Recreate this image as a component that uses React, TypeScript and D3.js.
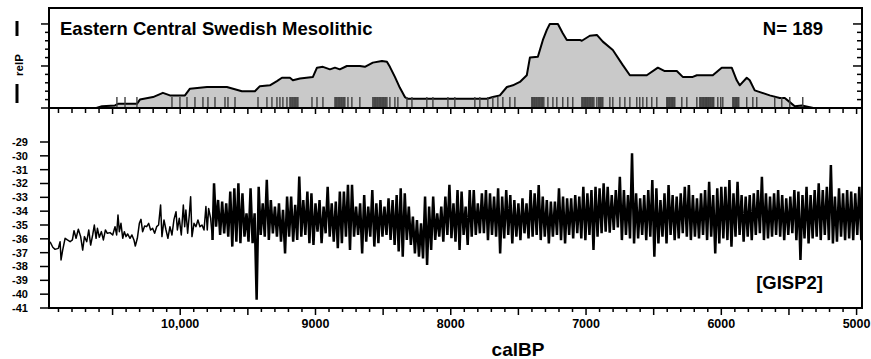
import React from "react";
import * as d3 from "d3";

// ---------- DATA ----------
// Summed probability distribution (relP) of dates, calBP
const spdYears = [10620, 10578, 10482, 10460, 10320, 10298, 10201, 10128, 10076, 9965, 9928, 9802, 9655, 9544, 9448, 9411, 9337, 9285, 9248, 9189, 9167, 9115, 9019, 8989, 8945, 8893, 8856, 8820, 8768, 8672, 8635, 8576, 8509, 8472, 8450, 8413, 8376, 8339, 8317, 8280, 7733, 7689, 7637, 7585, 7541, 7489, 7438, 7415, 7356, 7319, 7290, 7268, 7208, 7172, 7142, 7046, 7031, 6972, 6920, 6876, 6802, 6728, 6676, 6551, 6469, 6418, 6329, 6285, 6211, 6181, 6063, 5997, 5923, 5886, 5864, 5812, 5790, 5753, 5642, 5568, 5531, 5494, 5457, 5405, 5346, 5320];
const spdValues = [0, 0.02, 0.03, 0.05, 0.05, 0.10, 0.13, 0.18, 0.15, 0.15, 0.23, 0.25, 0.25, 0.20, 0.20, 0.26, 0.27, 0.32, 0.36, 0.36, 0.33, 0.35, 0.37, 0.48, 0.49, 0.46, 0.48, 0.46, 0.50, 0.50, 0.49, 0.54, 0.56, 0.55, 0.49, 0.37, 0.24, 0.13, 0.11, 0.11, 0.11, 0.13, 0.15, 0.25, 0.27, 0.31, 0.39, 0.60, 0.61, 0.81, 0.93, 1.00, 1.00, 0.89, 0.81, 0.81, 0.80, 0.86, 0.87, 0.79, 0.69, 0.51, 0.39, 0.39, 0.48, 0.44, 0.44, 0.37, 0.37, 0.39, 0.39, 0.48, 0.48, 0.33, 0.27, 0.36, 0.33, 0.21, 0.15, 0.12, 0.12, 0.07, 0.02, 0.03, 0.01, 0];

// Individual radiocarbon dates (calBP medians), N = 189
const dateYears = [
  10468, 10408, 10320,
  10061, 10002, 9950, 9891, 9832, 9795, 9743, 9669, 9647, 9595,
  9425, 9359, 9322, 9285, 9263, 9241, 9211,
  9189, 9182, 9174, 9167, 9159, 9152, 9145, 9137, 9130,
  9026, 8989, 8945,
  8856, 8849, 8842, 8834, 8827, 8820, 8812, 8805, 8797, 8790, 8783,
  8760, 8731, 8672,
  8576, 8568, 8561, 8554, 8546, 8539, 8531, 8524, 8517, 8509, 8502, 8495, 8487, 8480, 8472,
  8450, 8413, 8391, 8324, 8287, 8177, 8132, 8021, 7970,
  7822, 7785, 7726, 7689, 7652, 7615, 7563, 7526,
  7401, 7394, 7386, 7379, 7371, 7364, 7356, 7349, 7342, 7334, 7327, 7320, 7312,
  7282, 7245, 7216, 7172, 7135, 7098,
  7031, 7024, 7016, 7009, 7002, 6994, 6987, 6979, 6972, 6965, 6957, 6950, 6942,
  6920, 6906, 6898, 6891, 6883, 6876,
  6824, 6802, 6750, 6713, 6676, 6625, 6603, 6580, 6551, 6514, 6477,
  6403, 6396, 6388, 6381, 6373, 6366, 6359, 6351, 6344,
  6292, 6255, 6181,
  6159, 6152, 6144, 6137, 6130, 6122, 6115, 6108, 6100, 6093, 6085, 6078, 6070, 6063, 6056,
  6026, 6004, 5989,
  5915, 5908, 5900, 5893, 5886, 5878, 5871,
  5812, 5767, 5738, 5605, 5553, 5494, 5398,
];

// GISP2 d18O, low-resolution early part (calBP, permil)
const gispEarlyYears = [10962, 10942, 10925, 10901, 10888, 10881, 10869, 10851, 10834, 10814, 10797, 10785, 10770, 10753, 10736, 10721, 10708, 10691, 10676, 10662, 10647, 10635, 10622, 10612, 10598, 10583, 10568, 10553, 10539, 10519, 10499, 10482, 10470, 10460, 10450, 10438, 10425, 10413, 10401, 10389, 10371, 10357, 10342, 10332, 10317, 10302, 10290, 10278, 10263, 10248, 10233, 10219, 10204, 10189, 10174, 10160, 10145, 10135, 10120, 10105, 10091, 10076, 10061, 10046, 10031, 10021, 10007, 9992, 9977, 9967, 9958, 9945, 9933, 9923, 9913, 9898, 9884, 9869, 9854, 9839, 9824, 9810, 9800, 9790, 9775, 9761];
const gispEarlyValues = [-36.21, -36.61, -36.76, -36.69, -36.21, -37.53, -36.81, -35.96, -36.08, -36.21, -36.08, -35.41, -35.96, -35.31, -35.84, -36.81, -35.84, -36.21, -35.36, -36.45, -35.72, -35.0, -35.96, -35.24, -35.89, -35.48, -36.08, -35.36, -35.6, -35.55, -35.72, -35.12, -35.72, -34.28, -35.48, -34.88, -35.96, -35.48, -35.84, -35.65, -35.96, -35.72, -36.08, -36.52, -35.96, -34.88, -34.59, -35.48, -35.07, -35.12, -34.88, -35.36, -35.24, -35.6, -35.12, -35.0, -33.55, -35.84, -34.64, -35.36, -35.96, -35.12, -35.72, -34.59, -34.04, -35.36, -34.52, -35.72, -33.55, -35.12, -33.92, -35.6, -34.28, -32.95, -35.84, -34.88, -35.12, -34.64, -35.12, -35.0, -35.36, -33.67, -35.36, -33.8, -34.52, -36.08];

// GISP2 d18O, high-resolution part: per 30-yr interval, highest and lowest sample
const gispDenseYears = [
  9750, 9720, 9690, 9660, 9630, 9600, 9570, 9540, 9510, 9480,
  9450, 9420, 9390, 9360, 9330, 9300, 9270, 9240, 9210, 9180,
  9150, 9120, 9090, 9060, 9030, 9000, 8970, 8940, 8910, 8880,
  8850, 8820, 8790, 8760, 8730, 8700, 8670, 8640, 8610, 8580,
  8550, 8520, 8490, 8460, 8430, 8400, 8370, 8340, 8310, 8280,
  8250, 8220, 8190, 8160, 8130, 8100, 8070, 8040, 8010, 7980,
  7950, 7920, 7890, 7860, 7830, 7800,
  7770, 7740, 7710, 7680, 7650, 7620, 7590, 7560, 7530, 7500,
  7470, 7440, 7410, 7380, 7350, 7320, 7290, 7260, 7230, 7200,
  7170, 7140, 7110, 7080, 7050, 7020, 6990, 6960, 6930, 6900,
  6870, 6840, 6810, 6780, 6750, 6720, 6690, 6660, 6630, 6600,
  6570, 6540, 6510, 6480, 6450, 6420, 6390, 6360, 6330, 6300,
  6270, 6240, 6210, 6180, 6150, 6120, 6090, 6060, 6030, 6000,
  5970, 5940, 5910, 5880, 5850, 5820, 5790, 5760, 5730, 5700,
  5670, 5640, 5610, 5580, 5550, 5520, 5490, 5460, 5430, 5400,
  5370, 5340, 5310, 5280, 5250, 5220, 5190, 5160, 5130, 5100,
  5070, 5040, 5010, 4980,
];
const gispDenseHigh = [
  -31.98, -33.19, -33.31, -33.43, -32.59, -32.35, -31.98, -32.71, -34.15, -32.35,
  -34.15, -32.23, -33.43, -31.74, -33.19, -33.67, -33.43, -33.91, -32.95, -32.95,
  -33.55, -31.50, -33.19, -32.59, -32.71, -33.43, -33.19, -33.67, -32.23, -33.43,
  -33.31, -32.59, -32.59, -32.10, -32.10, -33.67, -33.43, -32.83, -33.67, -32.47,
  -33.43, -33.19, -33.67, -33.07, -33.19, -32.83, -32.35, -32.71, -33.67, -34.39,
  -34.64, -34.88, -32.95, -33.67, -32.95, -34.15, -33.67, -32.95, -32.10, -33.43,
  -32.47, -32.59, -33.67, -32.47, -32.47, -33.43,
  -32.71, -32.47, -32.71, -32.95, -32.35, -32.95, -32.47, -32.83, -33.19, -33.43,
  -33.07, -33.43, -32.47, -32.71, -32.11, -32.95, -33.19, -33.31, -33.31, -32.35,
  -32.95, -33.07, -33.07, -32.83, -32.95, -32.23, -32.71, -32.47, -32.23, -32.35,
  -31.99, -32.23, -32.83, -32.47, -31.51, -32.47, -32.83, -29.82, -32.71, -33.07,
  -32.83, -32.47, -31.75, -32.35, -33.19, -32.71, -32.11, -32.83, -32.95, -32.71,
  -32.23, -32.11, -32.83, -33.07, -32.71, -32.47, -31.87, -32.83, -32.35, -32.23,
  -32.23, -31.75, -32.71, -31.87, -32.83, -32.95, -32.83, -32.71, -32.47, -31.51,
  -32.71, -32.95, -32.71, -32.47, -32.83, -33.07, -32.95, -32.47, -32.59, -32.83,
  -32.23, -32.83, -32.47, -31.99, -32.47, -32.23, -30.66, -32.95, -32.35, -32.71,
  -32.47, -32.59, -32.71, -32.23,
];
const gispDenseLow = [
  -35.12, -35.72, -35.60, -35.84, -36.56, -36.20, -36.32, -35.84, -36.20, -36.32,
  -40.40, -35.72, -35.84, -36.08, -35.60, -35.84, -36.20, -37.05, -35.84, -36.20,
  -36.08, -35.84, -35.72, -36.32, -36.44, -35.48, -36.32, -35.60, -35.84, -36.20,
  -36.68, -36.32, -35.84, -36.80, -35.84, -35.72, -37.05, -36.20, -35.84, -36.56,
  -36.32, -35.84, -35.72, -36.08, -36.44, -36.92, -37.29, -36.08, -36.44, -37.05,
  -37.29, -37.41, -37.89, -36.80, -36.08, -35.84, -36.20, -35.72, -35.96, -36.20,
  -36.80, -35.72, -36.44, -35.84, -35.72, -35.60,
  -35.60, -36.09, -35.72, -35.85, -37.05, -35.97, -35.72, -36.33, -35.85, -36.09,
  -35.60, -35.97, -35.85, -35.72, -36.09, -35.85, -36.33, -35.85, -35.72, -36.09,
  -36.33, -35.72, -35.97, -35.60, -35.97, -36.09, -35.72, -36.81, -35.85, -35.60,
  -35.48, -35.56, -35.36, -35.17, -36.09, -35.72, -35.97, -36.33, -35.97, -35.72,
  -36.09, -35.85, -37.29, -36.33, -35.85, -36.33, -35.72, -36.09, -35.97, -35.60,
  -35.85, -36.09, -35.85, -35.97, -35.72, -36.09, -35.85, -37.05, -36.33, -35.97,
  -36.09, -36.57, -35.85, -35.72, -36.21, -35.85, -36.09, -35.72, -35.60, -36.09,
  -35.97, -35.85, -35.72, -35.85, -36.09, -35.72, -35.60, -36.09, -37.53, -35.97,
  -36.33, -35.97, -35.85, -36.09, -35.72, -36.09, -36.33, -36.21, -35.85, -36.09,
  -35.97, -36.09, -35.72, -36.09,
];

const xLabelYears = [10000, 9000, 8000, 7000, 6000, 5000];
const yBotTicks = [-29, -30, -31, -32, -33, -34, -35, -36, -37, -38, -39, -40, -41];
const relPTicks = [0, 0.1, 0.2, 0.3, 0.4, 0.5, 0.6, 0.7, 0.8, 0.9, 1.0];

const title = "Eastern Central Swedish Mesolithic";
const nLabel = "N= 189";
const recordLabel = "[GISP2]";
const xTitle = "calBP";
const yTopTitle = "relP";

// ---------- LAYOUT ----------
const W = 871;
const H = 359;
const L = 49;
const R = 862;
const TOP = 8;
const MID = 108;
const BOT = 308;
const FONT = "'Liberation Sans', Arial, Helvetica, sans-serif";

export default function App() {
  const x = d3.scaleLinear().domain([10970, 4960]).range([L, R]);
  const yTop = d3.scaleLinear().domain([0, 1.19]).range([MID, TOP]);
  const yBot = d3.scaleLinear().domain([-29, -41]).range([142, BOT]);

  const spd = spdYears.map((yr, i) => [yr, spdValues[i]] as [number, number]);
  const area = d3
    .area<[number, number]>()
    .x((d) => x(d[0]))
    .y0(yTop(0))
    .y1((d) => yTop(d[1]));
  const line = d3
    .line<[number, number]>()
    .x((d) => x(d[0]))
    .y((d) => yTop(d[1]));

  const early: [number, number][] = gispEarlyYears.map((yr, i) => [yr, gispEarlyValues[i]]);
  const dense: [number, number][] = [early[early.length - 1]];
  gispDenseYears.forEach((yr, i) => {
    dense.push([yr, gispDenseHigh[i]]);
    dense.push([yr - 15, gispDenseLow[i]]);
  });
  const gLine = d3
    .line<[number, number]>()
    .x((d) => x(d[0]))
    .y((d) => yBot(d[1]));

  const centuryTicks = d3.range(10900, 4999, -100);

  return (
    <svg
      width={W}
      height={H}
      style={{ position: "absolute", left: 0, top: 0, background: "#fff" }}
      fontFamily={FONT}
      fontWeight="bold"
    >
      <rect x={0} y={0} width={W} height={H} fill="#fff" />

      {/* SPD area */}
      <path d={area(spd) || ""} fill="#c9c9c9" stroke="none" />
      <path d={line(spd) || ""} fill="none" stroke="#000" strokeWidth={2} strokeLinejoin="round" />

      {/* dates rug */}
      {dateYears.map((yr, i) => (
        <line
          key={"d" + i}
          x1={x(yr)}
          x2={x(yr)}
          y1={MID}
          y2={MID - 11}
          stroke="#404040"
          strokeWidth={1.4}
        />
      ))}

      {/* GISP2 */}
      <path d={gLine(early) || ""} fill="none" stroke="#000" strokeWidth={1.5} strokeLinejoin="round" />
      <path d={gLine(dense) || ""} fill="none" stroke="#000" strokeWidth={2.5} strokeLinejoin="miter" strokeMiterlimit={1.3} />

      {/* frames */}
      <line x1={L} x2={R} y1={TOP} y2={TOP} stroke="#000" strokeWidth={2} />
      <line x1={L} x2={L} y1={TOP - 1} y2={BOT + 1} stroke="#000" strokeWidth={2} />
      <line x1={R} x2={R} y1={TOP - 1} y2={BOT + 1} stroke="#000" strokeWidth={2} />
      <line x1={L - 1} x2={R + 1} y1={MID} y2={MID} stroke="#000" strokeWidth={2} />
      <line x1={L - 1} x2={R + 1} y1={BOT} y2={BOT} stroke="#000" strokeWidth={2} />

      {/* relP ticks */}
      {relPTicks.map((t, i) => {
        const major = i % 5 === 0;
        const yy = yTop(t);
        return (
          <g key={"rt" + i}>
            <line x1={L - (major ? 8 : 4)} x2={L} y1={yy} y2={yy} stroke="#000" strokeWidth={1.5} />
            <line x1={R - (major ? 9 : 5)} x2={R} y1={yy} y2={yy} stroke="#000" strokeWidth={1.5} />
          </g>
        );
      })}

      {/* century ticks */}
      {centuryTicks.map((t) => {
        const major = t % 500 === 0;
        const xx = x(t);
        return (
          <g key={"ct" + t}>
            <line x1={xx} x2={xx} y1={MID} y2={MID + (major ? 6 : 5)} stroke="#000" strokeWidth={1.5} />
            <line x1={xx} x2={xx} y1={BOT} y2={BOT + (major ? 7 : 4)} stroke="#000" strokeWidth={1.5} />
          </g>
        );
      })}

      {/* x labels */}
      {xLabelYears.map((t) => (
        <text key={"xl" + t} x={x(t)} y={328} textAnchor="middle" fontSize={12.5} fill="#000">
          {t >= 10000 ? d3.format(",")(t) : String(t)}
        </text>
      ))}
      <text x={518} y={356} textAnchor="middle" fontSize={19} fill="#000">
        {xTitle}
      </text>

      {/* bottom y ticks & labels */}
      {yBotTicks.map((t) => (
        <g key={"yb" + t}>
          <line x1={L - 9} x2={L} y1={yBot(t)} y2={yBot(t)} stroke="#000" strokeWidth={1.5} />
          <text x={28} y={yBot(t)} dy="0.36em" textAnchor="end" fontSize={11} fill="#000">
            {String(t)}
          </text>
        </g>
      ))}

      {/* relP axis title */}
      <rect x={15.5} y={21} width={3} height={15} fill="#000" />
      <rect x={15.5} y={84} width={3} height={19} fill="#000" />
      <text
        x={0}
        y={0}
        transform="translate(23,65) rotate(-90)"
        textAnchor="middle"
        fontSize={11.5}
        fill="#000"
      >
        {yTopTitle}
      </text>

      {/* annotations */}
      <text x={60} y={35} fontSize={18.5} fill="#000">
        {title}
      </text>
      <text x={823} y={35} textAnchor="end" fontSize={18.5} fill="#000">
        {nLabel}
      </text>
      <text x={823} y={289} textAnchor="end" fontSize={18.5} fill="#000">
        {recordLabel}
      </text>
    </svg>
  );
}
